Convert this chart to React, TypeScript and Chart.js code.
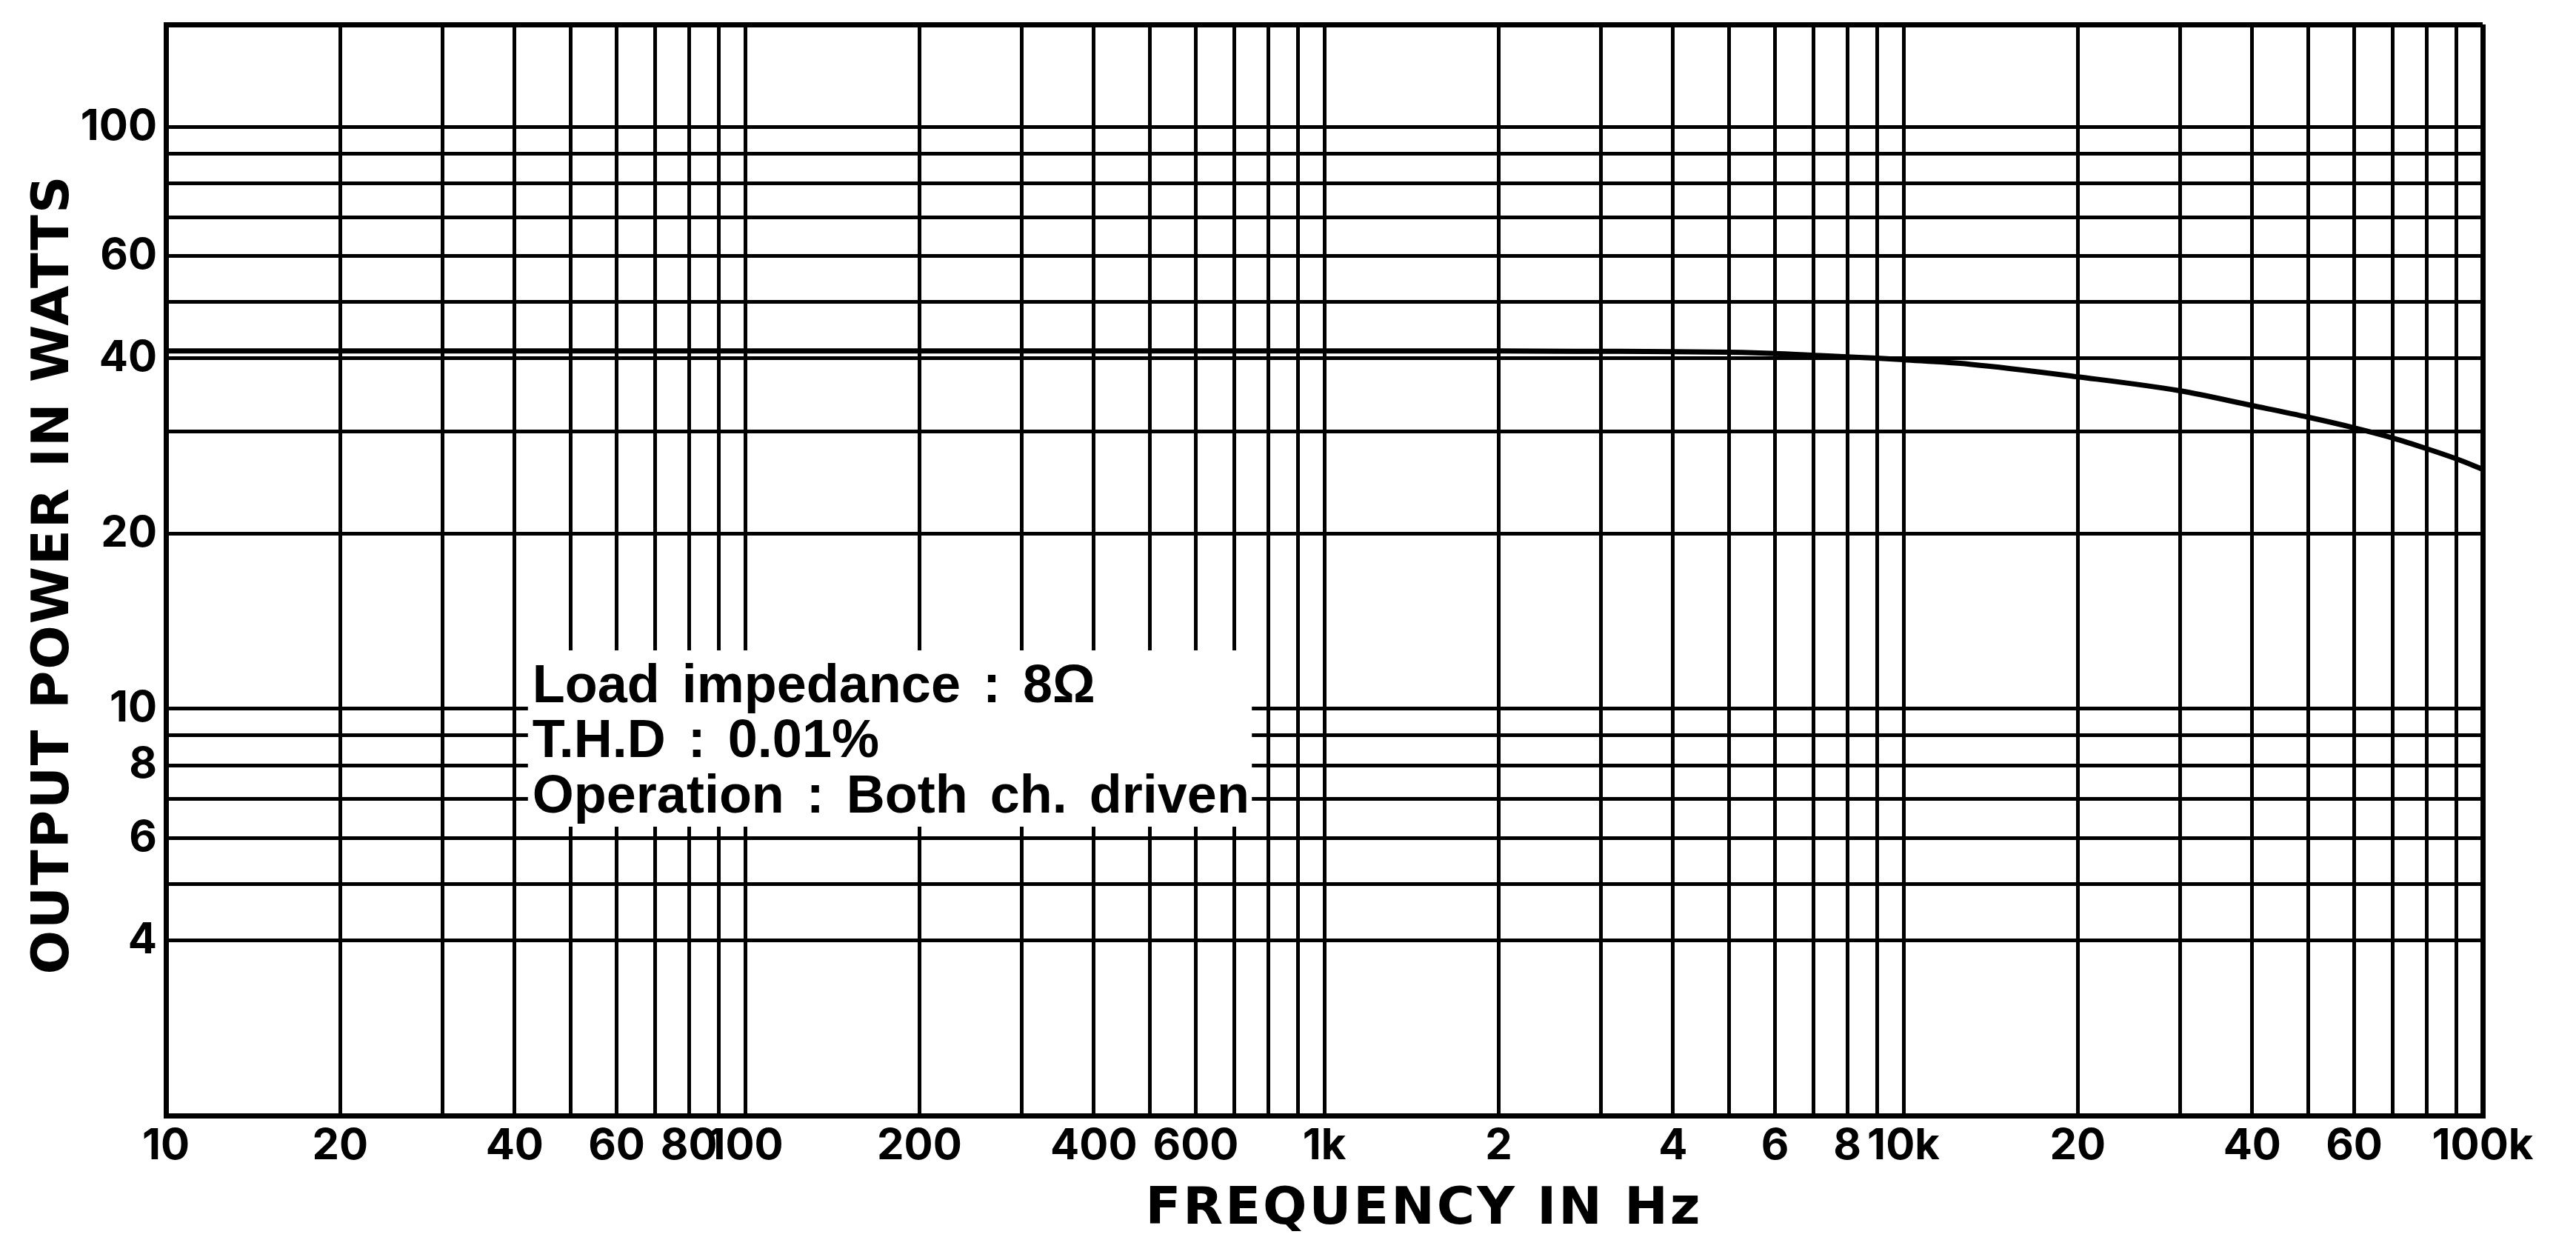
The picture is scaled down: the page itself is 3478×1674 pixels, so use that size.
import React, { useEffect, useRef } from 'react';
import { Chart, registerables } from 'chart.js';

Chart.register(...registerables);

// Output power vs frequency
const FREQ_HZ = [10, 100, 1000, 2000, 3000, 4000, 5000, 6000, 7000, 8000, 9000, 10000, 13000, 20000, 30000, 40000, 50000, 60000, 70000, 80000, 90000, 100000];
const POWER_W = [41.2, 41.2, 41.2, 41.2, 41.15, 41.1, 41.0, 40.8, 40.5, 40.25, 40.05, 39.8, 39.1, 37.2, 35.2, 33.2, 31.7, 30.4, 29.2, 28.0, 26.9, 25.8];

// Axis grid positions and tick labels
const X_MIN = 10;
const X_MAX = 100000;
const Y_MIN = 2;
const Y_MAX = 150;
const X_GRID = [
  10, 20, 30, 40, 50, 60, 70, 80, 90,
  100, 200, 300, 400, 500, 600, 700, 800, 900,
  1000, 2000, 3000, 4000, 5000, 6000, 7000, 8000, 9000,
  10000, 20000, 30000, 40000, 50000, 60000, 70000, 80000, 90000,
  100000,
];
const X_LABEL_VALUES = [10, 20, 40, 60, 80, 100, 200, 400, 600, 1000, 2000, 4000, 6000, 8000, 10000, 20000, 40000, 60000, 100000];
const X_LABEL_TEXT = ['10', '20', '40', '60', '80', '100', '200', '400', '600', '1k', '2', '4', '6', '8', '10k', '20', '40', '60', '100k'];
const Y_GRID = [2, 4, 5, 6, 7, 8, 9, 10, 20, 30, 40, 50, 60, 70, 80, 90, 100, 150];
const Y_LABEL_VALUES = [4, 6, 8, 10, 20, 40, 60, 100];
const Y_LABEL_TEXT = ['4', '6', '8', '10', '20', '40', '60', '100'];

const X_TITLE = 'FREQUENCY IN Hz';
const Y_TITLE = 'OUTPUT POWER IN WATTS';
const NOTE_LINES = ['Load impedance : 8Ω', 'T.H.D : 0.01%', 'Operation : Both ch. driven'];

const W = 3478;
const H = 1674;

const annotations = {
  id: 'annotations',
  afterDraw(chart: any) {
    const { ctx, chartArea: a } = chart;
    const xs = chart.scales.x;
    ctx.save();
    // white note box covering the grid
    const bx0 = xs.getPixelForValue(40) + 18;
    const bx1 = xs.getPixelForValue(800) - 22;
    const by0 = 878;
    const by1 = 1116;
    ctx.fillStyle = '#ffffff';
    ctx.fillRect(bx0, by0, bx1 - bx0, by1 - by0);
    ctx.fillStyle = '#000';
    ctx.font = 'bold 72px "Liberation Sans", Arial, sans-serif';
    (ctx as any).wordSpacing = '10px';
    ctx.textAlign = 'left';
    ctx.textBaseline = 'alphabetic';
    const baselines = [948, 1022, 1097];
    NOTE_LINES.forEach((t, i) => ctx.fillText(t, bx0 + 6, baselines[i]));
    (ctx as any).wordSpacing = '0px';

    // axis titles
    ctx.font = 'bold 70px "DejaVu Sans", sans-serif';
    (ctx as any).letterSpacing = '3px';
    ctx.textAlign = 'center';
    ctx.textBaseline = 'middle';
    ctx.fillText(X_TITLE, a.left + (a.right - a.left) * 0.543, 1634);
    ctx.translate(74, (a.top + a.bottom) / 2 + 6);
    ctx.rotate(-Math.PI / 2);
    (ctx as any).letterSpacing = '2px';
    ctx.fillText(Y_TITLE, 0, 0);
    ctx.restore();
  },
};

export default function App() {
  const ref = useRef<HTMLCanvasElement | null>(null);

  useEffect(() => {
    if (!ref.current) return;
    const tickFont = { family: 'Inter, "DejaVu Sans", sans-serif', weight: 'bold' as const, size: 58 };
    const chart = new Chart(ref.current, {
      type: 'line',
      data: {
        datasets: [
          {
            data: FREQ_HZ.map((f, i) => ({ x: f, y: POWER_W[i] })),
            borderColor: '#000',
            borderWidth: 7,
            pointRadius: 0,
            cubicInterpolationMode: 'monotone',
            fill: false,
          },
        ],
      },
      options: {
        responsive: false,
        maintainAspectRatio: false,
        devicePixelRatio: 1,
        animation: false,
        layout: { padding: { top: 33, right: 126, left: 0, bottom: 0 } },
        plugins: { legend: { display: false }, tooltip: { enabled: false } },
        scales: {
          x: {
            type: 'logarithmic',
            min: X_MIN,
            max: X_MAX,
            afterBuildTicks: (s: any) => {
              s.ticks = X_GRID.map((v) => ({ value: v }));
            },
            afterFit: (s: any) => {
              s.height = 168;
              s.paddingLeft = 0;
              s.paddingRight = 0;
            },
            ticks: {
              autoSkip: false,
              maxRotation: 0,
              minRotation: 0,
              padding: 7,
              color: '#000',
              font: tickFont,
              callback: (v: any) => {
                const i = X_LABEL_VALUES.indexOf(Number(v));
                return i >= 0 ? X_LABEL_TEXT[i] : '';
              },
            },
            grid: {
              drawTicks: false,
              color: '#000',
              lineWidth: (c: any) => (c.tick && (c.tick.value === X_MIN || c.tick.value === X_MAX) ? 7 : 5),
            },
            border: { display: true, color: '#000', width: 7 },
          },
          y: {
            type: 'logarithmic',
            min: Y_MIN,
            max: Y_MAX,
            afterBuildTicks: (s: any) => {
              s.ticks = Y_GRID.map((v) => ({ value: v }));
            },
            afterFit: (s: any) => {
              s.width = 224;
              s.paddingTop = 0;
              s.paddingBottom = 0;
            },
            ticks: {
              autoSkip: false,
              padding: 12,
              color: '#000',
              font: tickFont,
              callback: (v: any) => {
                const i = Y_LABEL_VALUES.indexOf(Number(v));
                return i >= 0 ? Y_LABEL_TEXT[i] : '';
              },
            },
            grid: {
              drawTicks: false,
              color: '#000',
              lineWidth: (c: any) => (c.tick && (c.tick.value === Y_MIN || c.tick.value === Y_MAX) ? 7 : 5),
            },
            border: { display: true, color: '#000', width: 7 },
          },
        },
      },
      plugins: [annotations],
    } as any);
    return () => chart.destroy();
  }, []);

  return (
    <div style={{ position: 'absolute', left: 0, top: 0, width: W, height: H, background: '#fff' }}>
      <canvas ref={ref} width={W} height={H} style={{ display: 'block', width: W, height: H }} />
    </div>
  );
}
